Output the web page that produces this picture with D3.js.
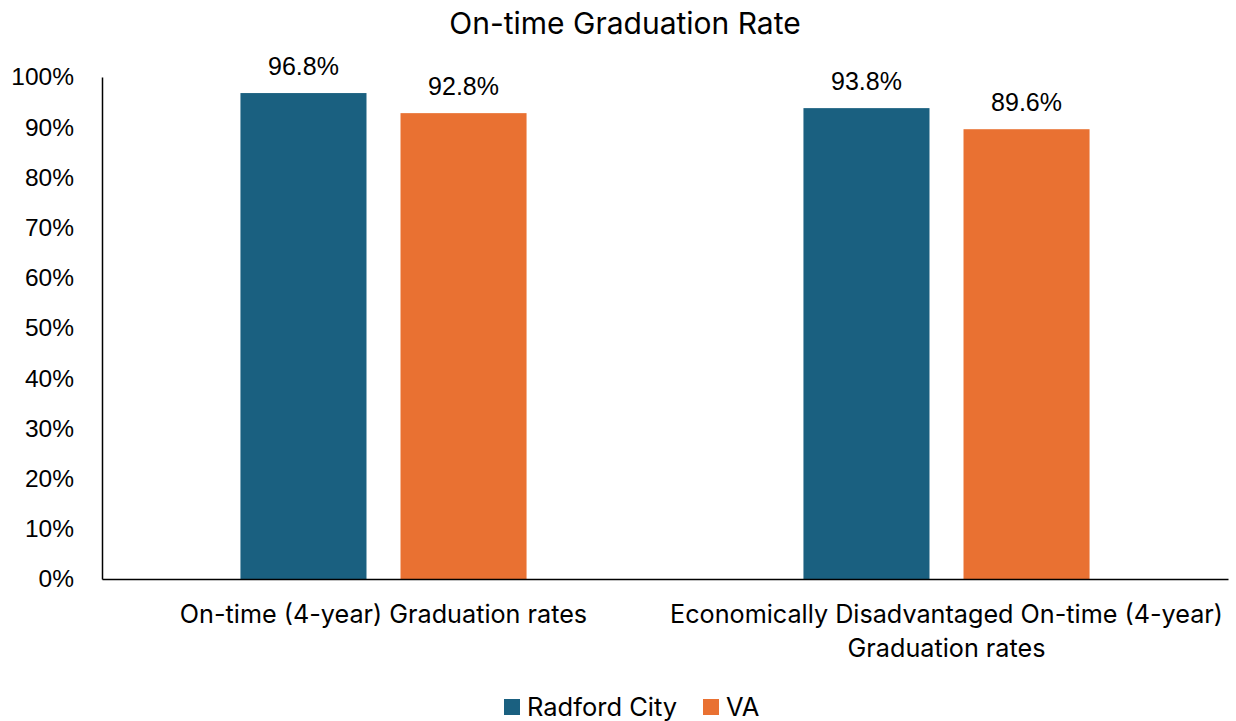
<!DOCTYPE html>
<html>
<head>
<meta charset="utf-8">
<script src="https://cdn.jsdelivr.net/npm/d3@7"></script>
<style>
  body { margin: 0; background: #fff; }
  svg { display: block; }
</style>
</head>
<body>
<div id="chart"></div>
<script>
// data
const categories = [
  ["On-time (4-year) Graduation rates"],
  ["Economically Disadvantaged On-time (4-year)", "Graduation rates"]
];
const seriesNames = ["Radford City", "VA"];
const radfordValues = [0.968, 0.938];
const vaValues = [0.928, 0.896];
const yTicks = [0, 0.1, 0.2, 0.3, 0.4, 0.5, 0.6, 0.7, 0.8, 0.9, 1.0];
const colors = ["#1a6080", "#e97132"];

const width = 1236;
const height = 721;
const marginTop = 77;
const marginRight = 8;
const marginBottom = 142;
const marginLeft = 102;

const labelFont = "'Liberation Sans', Arial, sans-serif";
const textFont = "Inter, 'Open Sans', sans-serif";

const rows = categories.map((c, i) => ({
  key: c.join(" "),
  lines: c,
  values: [radfordValues[i], vaValues[i]]
}));

const x0 = d3.scaleBand()
  .domain(rows.map(d => d.key))
  .range([marginLeft, width - marginRight])
  .paddingInner(0)
  .paddingOuter(0);

const x1 = d3.scaleBand()
  .domain(seriesNames)
  .range([0, x0.bandwidth()])
  .paddingInner(0.2125)
  .paddingOuter(0.865);

const y = d3.scaleLinear()
  .domain([0, 1])
  .range([height - marginBottom, marginTop]);

const svg = d3.select("#chart")
  .append("svg")
  .attr("width", width)
  .attr("height", height)
  .attr("viewBox", [0, 0, width, height]);

// title
svg.append("text")
  .attr("x", 625)
  .attr("y", 34)
  .attr("text-anchor", "middle")
  .attr("font-family", textFont)
  .attr("font-size", 30)
  .attr("fill", "#000")
  .text("On-time Graduation Rate");

// bars
const groups = svg.append("g")
  .selectAll("g")
  .data(rows)
  .join("g")
  .attr("transform", d => `translate(${x0(d.key)},0)`);

groups.selectAll("rect")
  .data(d => d.values.map((v, i) => ({ name: seriesNames[i], value: v, i })))
  .join("rect")
  .attr("x", d => x1(d.name))
  .attr("y", d => y(d.value))
  .attr("width", x1.bandwidth())
  .attr("height", d => y(0) - y(d.value))
  .attr("fill", d => colors[d.i]);

groups.selectAll("text.val")
  .data(d => d.values.map((v, i) => ({ name: seriesNames[i], value: v })))
  .join("text")
  .attr("class", "val")
  .attr("x", d => x1(d.name) + x1.bandwidth() / 2)
  .attr("y", d => y(d.value) - 18)
  .attr("text-anchor", "middle")
  .attr("font-family", labelFont)
  .attr("font-size", 25)
  .attr("fill", "#000")
  .text(d => d3.format(".1%")(d.value));

// y axis
svg.append("g")
  .attr("transform", `translate(${marginLeft},0)`)
  .call(d3.axisLeft(y).tickValues(yTicks).tickFormat(d3.format(".0%")).tickSize(0).tickPadding(28))
  .call(g => g.select(".domain").attr("stroke", "#000").attr("stroke-width", 1.5))
  .call(g => g.selectAll(".tick text")
    .attr("font-family", labelFont)
    .attr("font-size", 24.5)
    .attr("fill", "#000"));

// x axis
const xAxis = svg.append("g")
  .attr("transform", `translate(0,${y(0)})`)
  .call(d3.axisBottom(x0).tickSize(0).tickFormat(""))
  .call(g => g.select(".domain").attr("stroke", "#000").attr("stroke-width", 1.5));

xAxis.selectAll(".tick text").remove();
xAxis.selectAll(".tick")
  .each(function (key) {
    const row = rows.find(r => r.key === key);
    const t = d3.select(this).append("text")
      .attr("text-anchor", "middle")
      .attr("font-family", textFont)
      .attr("font-size", 25.2)
      .attr("fill", "#000");
    row.lines.forEach((line, i) => {
      t.append("tspan")
        .attr("x", 0)
        .attr("y", 44 + i * 34)
        .text(line);
    });
  });

// legend
const legend = svg.append("g")
  .attr("transform", `translate(504,707)`);
const legendX = [0, 199];
seriesNames.forEach((name, i) => {
  const g = legend.append("g").attr("transform", `translate(${legendX[i]},0)`);
  g.append("rect")
    .attr("x", 0)
    .attr("y", -8)
    .attr("width", 16)
    .attr("height", 16)
    .attr("fill", colors[i]);
  g.append("text")
    .attr("x", 23)
    .attr("y", 9)
    .attr("font-family", textFont)
    .attr("font-size", 25.5)
    .attr("fill", "#000")
    .text(name);
});
</script>
</body>
</html>
